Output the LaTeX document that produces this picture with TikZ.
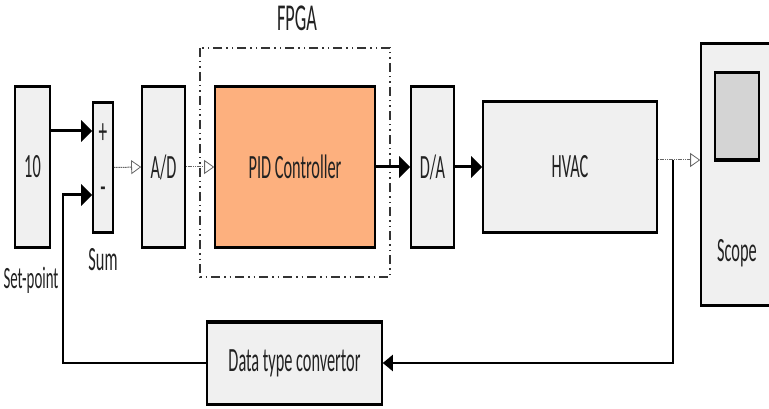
\documentclass[tikz,border=0pt]{standalone}
\usepackage{fontspec}
\setmainfont{Carlito}[FakeStretch=0.48]
\usepackage{xcolor}
\usetikzlibrary{arrows.meta,positioning,calc}
\definecolor{blkgray}{HTML}{F0F0F0}
\definecolor{pidorange}{HTML}{FDB07E}
\definecolor{scrgray}{HTML}{D4D4D4}
\definecolor{txtgray}{HTML}{222222}

\begin{document}
\begin{tikzpicture}[
x=1pt,y=-1pt,
font=\fontsize{34}{38}\selectfont,
every node/.style={text=txtgray},
block/.style={draw,line width=1.6pt,fill=blkgray,inner sep=0pt,
  path picture={\draw[line width=5pt] (path picture bounding box.north west)--(path picture bounding box.north east);
    \draw[line width=5pt] (path picture bounding box.south west)--(path picture bounding box.south east);}},
thk/.style={-{Triangle[length=11pt,width=21pt]},line width=3pt},
fb/.style={line width=2.2pt},
dsig/.style={-{Triangle[open,length=10pt,width=14pt,line width=0.8pt]},draw=black!60,line width=1pt,dash pattern=on 1.2pt off 0.6pt},
fpga/.style={line width=1.4pt,draw=black!80,dash pattern=on 9pt off 4pt on 1.5pt off 4pt on 1.5pt off 4pt}
]
\useasboundingbox (0,0) rectangle (769,409);
\draw[fpga] (200,48) rectangle (390,277);
\node (fpgalbl) at (297,18) {\fontsize{38}{42}\selectfont FPGA};
\node[block,minimum width=35pt,minimum height=163pt] (ten) at (32.5,167) {10};
\node[block,minimum width=20pt,minimum height=131pt] (sum) at (103,167.5) {};
\node[block,minimum width=43pt,minimum height=163pt] (ad) at (163.5,167) {A/D};
\node[block,fill=pidorange,minimum width=160pt,minimum height=163pt] (pid) at (295,167) {PID Controller};
\node[block,minimum width=43pt,minimum height=163pt] (da) at (432.5,167) {D/A};
\node[block,minimum width=174pt,minimum height=132pt] (hvac) at (570,167) {HVAC};
\node[block,minimum width=80pt,minimum height=263pt] (scope) at (741,174.5) {};
\node[block,fill=scrgray,minimum width=44pt,minimum height=89pt] (screen) at (737,116.5) {};
\node (scopelbl) at (737,253) {Scope};
\node[block,minimum width=175pt,minimum height=84pt] (conv) at (294.5,363) {Data type convertor};
\node (plus) at (103,134) {\fontsize{36}{38}\selectfont +};
\node (minus) at (103,193) {\fontsize{36}{38}\selectfont -};
\node (sumlbl) at (103,260) {Sum};
\node (splbl) at (31,280) {\fontsize{31}{34}\selectfont Set-point};
\coordinate (inp) at ([yshift=36.5pt]sum.west);
\coordinate (inm) at ([yshift=-27.5pt]sum.west);
\coordinate (out) at ([yshift=7pt]hvac.east);
\coordinate (tap) at ([xshift=15pt]out);
\draw[thk] (ten.east |- inp) -- (inp);
\draw[dsig] (sum.east) -- (ad.west);
\draw[dsig] (ad.west -| ad.east) -- (pid.west);
\draw[thk] (pid.east) -- (da.west);
\draw[thk] (da.east) -- (hvac.west);
\draw[dsig] (out) -- (out -| scope.west);
\draw[fb,-{Triangle[length=10pt,width=16pt]}] (tap) |- (conv.east);
\draw[fb] (conv.west) -| ([xshift=-29pt]inm);
\draw[thk] ([xshift=-30pt]inm) -- (inm);
\end{tikzpicture}
\end{document}
